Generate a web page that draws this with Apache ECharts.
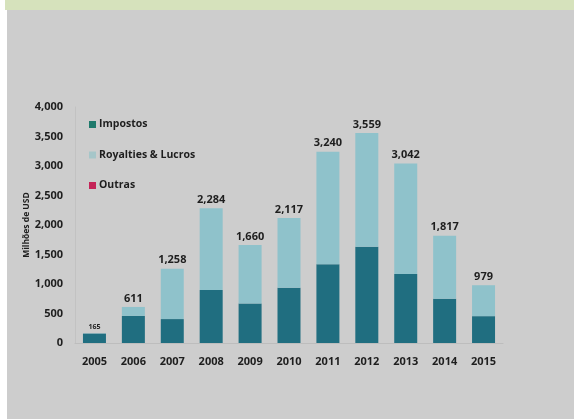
<!DOCTYPE html>
<html>
<head>
<meta charset="utf-8">
<script src="https://cdn.jsdelivr.net/npm/echarts@6/dist/echarts.min.js"></script>
<style>
html,body{margin:0;padding:0;background:#ffffff;}
#band{position:absolute;left:5px;top:0;width:569px;height:10px;background:#d6e2bc;}
#panel{position:absolute;left:7px;top:10px;width:567px;height:409px;background:#cdcdcd;}
#chart{position:absolute;left:0;top:0;width:574px;height:419px;}
</style>
</head>
<body>
<div id="band"></div>
<div id="panel"></div>
<div id="chart"></div>
<script>
var years = ['2005','2006','2007','2008','2009','2010','2011','2012','2013','2014','2015'];
var impostos = [160, 460, 405, 900, 670, 935, 1335, 1630, 1170, 750, 455];
var royalties = [5, 151, 853, 1384, 990, 1182, 1905, 1929, 1872, 1067, 524];
var outras = [0, 0, 0, 0, 0, 0, 0, 0, 0, 0, 0];
var totals = [165, 611, 1258, 2284, 1660, 2117, 3240, 3559, 3042, 1817, 979];
var yTicks = [0, 500, 1000, 1500, 2000, 2500, 3000, 3500, 4000];

var FONT = 'Open Sans';
var chart = echarts.init(document.getElementById('chart'));
chart.setOption({
  backgroundColor: 'transparent',
  textStyle: { fontFamily: FONT },
  grid: { left: 75, right: 71, top: 107, bottom: 76 },
  legend: {
    orient: 'vertical', left: 84, top: 114,
    itemWidth: 7, itemHeight: 7, itemGap: 19.5,
    icon: 'rect',
    textStyle: { fontFamily: FONT, fontSize: 10.5, fontWeight: 'bold', color: '#1e1e1e', padding: [0, 0, 0, -2] },
    data: [
      { name: 'Impostos', itemStyle: { color: '#1f7a6c' } },
      { name: 'Royalties & Lucros', itemStyle: { color: '#a6c6c9' } },
      { name: 'Outras', itemStyle: { color: '#c42458' } }
    ]
  },
  xAxis: {
    type: 'category', data: years,
    axisLine: { show: true, lineStyle: { color: '#bdbdbd', width: 1 } },
    axisTick: { show: false },
    axisLabel: { fontFamily: FONT, fontSize: 11, fontWeight: 'bold', color: '#1e1e1e', margin: 13 }
  },
  yAxis: {
    type: 'value', min: 0, max: 4000, interval: 500,
    name: 'Milhões de USD', nameLocation: 'middle', nameGap: 44, nameRotate: 90,
    nameMoveOverlap: false,
    nameTextStyle: { fontFamily: FONT, fontSize: 8.5, fontWeight: 'bold', color: '#1e1e1e' },
    axisLine: { show: true, lineStyle: { color: '#c2c2c2', width: 1 } },
    axisTick: { show: false },
    splitLine: { show: false },
    axisLabel: {
      fontFamily: FONT, fontSize: 11, fontWeight: 'bold', color: '#1e1e1e', margin: 12,
      formatter: function (v) { return yTicks.indexOf(v) >= 0 ? v.toLocaleString('en-US') : ''; }
    }
  },
  series: [
    { name: 'Impostos', type: 'bar', stack: 't', data: impostos, barWidth: 23,
      itemStyle: { color: '#206e80' } },
    { name: 'Royalties & Lucros', type: 'bar', stack: 't', data: royalties, barWidth: 23,
      itemStyle: { color: '#8fc2cb' } },
    { name: 'Outras', type: 'bar', stack: 't', barWidth: 23,
      itemStyle: { color: '#c42458' },
      data: outras.map(function (v, i) {
        return {
          value: v,
          label: {
            show: true, position: 'top', distance: 3,
            formatter: totals[i].toLocaleString('en-US'),
            fontFamily: FONT, fontWeight: 'bold', color: '#1e1e1e',
            fontSize: i === 0 ? 7 : 11
          }
        };
      })
    }
  ]
});
</script>
</body>
</html>
